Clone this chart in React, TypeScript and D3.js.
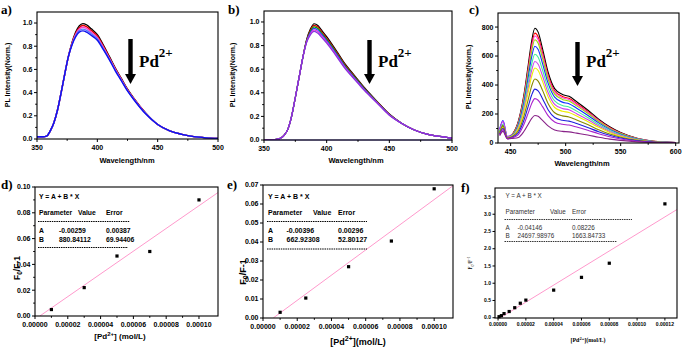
import * as d3 from 'd3';
import React from 'react';

const SANS = "'Liberation Sans', Arial, sans-serif";
const SERIF = "'Liberation Serif', 'Times New Roman', serif";

// ---- a) spectra ----
const wlA = [350, 355, 358, 361, 364, 367, 370, 373, 376, 379, 382, 385, 388, 391, 395, 400, 405, 410, 415, 420, 425, 430, 440, 450, 460, 470, 480, 490, 500];
const specA = [
  [0.02, 0.02, 0.025, 0.07, 0.14, 0.25, 0.40, 0.56, 0.71, 0.83, 0.92, 0.975, 0.995, 0.985, 0.95, 0.90, 0.81, 0.71, 0.61, 0.52, 0.43, 0.355, 0.225, 0.125, 0.07, 0.04, 0.02, 0.01, 0.005],
  [0.02, 0.02, 0.025, 0.07, 0.14, 0.25, 0.40, 0.56, 0.71, 0.825, 0.91, 0.96, 0.978, 0.968, 0.935, 0.888, 0.80, 0.703, 0.604, 0.515, 0.426, 0.352, 0.223, 0.125, 0.07, 0.04, 0.02, 0.01, 0.005],
  [0.02, 0.02, 0.025, 0.07, 0.14, 0.25, 0.40, 0.56, 0.71, 0.82, 0.90, 0.948, 0.963, 0.953, 0.921, 0.876, 0.79, 0.696, 0.598, 0.51, 0.422, 0.349, 0.221, 0.125, 0.07, 0.04, 0.02, 0.01, 0.005],
  [0.02, 0.02, 0.025, 0.07, 0.14, 0.25, 0.40, 0.56, 0.71, 0.815, 0.89, 0.935, 0.947, 0.937, 0.907, 0.864, 0.78, 0.689, 0.592, 0.505, 0.418, 0.346, 0.219, 0.125, 0.07, 0.04, 0.02, 0.01, 0.005],
  [0.02, 0.02, 0.025, 0.07, 0.14, 0.25, 0.40, 0.56, 0.71, 0.81, 0.88, 0.922, 0.932, 0.922, 0.893, 0.852, 0.77, 0.682, 0.586, 0.50, 0.414, 0.343, 0.217, 0.125, 0.07, 0.04, 0.02, 0.01, 0.005],
];
const colorsA = ['#000000', '#e00000', '#ff44cc', '#5577ff', '#1010ee'];

// ---- b) spectra ----
const wlB = [350, 355, 360, 363, 366, 369, 372, 375, 378, 381, 384, 387, 390, 393, 396, 400, 405, 410, 415, 420, 425, 430, 440, 450, 460, 470, 480, 490, 500];
const specB = [
  [0, 0, 0.005, 0.015, 0.04, 0.09, 0.20, 0.36, 0.53, 0.70, 0.85, 0.94, 0.985, 0.97, 0.93, 0.875, 0.80, 0.72, 0.64, 0.575, 0.51, 0.445, 0.33, 0.22, 0.14, 0.085, 0.05, 0.03, 0.015],
  [0, 0, 0.005, 0.015, 0.04, 0.09, 0.20, 0.36, 0.53, 0.70, 0.845, 0.93, 0.972, 0.957, 0.918, 0.864, 0.79, 0.711, 0.632, 0.568, 0.504, 0.44, 0.327, 0.218, 0.14, 0.085, 0.05, 0.03, 0.015],
  [0, 0, 0.005, 0.015, 0.04, 0.09, 0.20, 0.36, 0.53, 0.70, 0.84, 0.92, 0.959, 0.944, 0.906, 0.853, 0.78, 0.702, 0.624, 0.561, 0.498, 0.435, 0.324, 0.216, 0.14, 0.085, 0.05, 0.03, 0.015],
  [0, 0, 0.005, 0.015, 0.04, 0.09, 0.20, 0.36, 0.53, 0.70, 0.835, 0.91, 0.946, 0.931, 0.894, 0.842, 0.77, 0.693, 0.616, 0.554, 0.492, 0.43, 0.321, 0.214, 0.14, 0.085, 0.05, 0.03, 0.015],
  [0, 0, 0.005, 0.015, 0.04, 0.09, 0.20, 0.36, 0.53, 0.70, 0.83, 0.90, 0.933, 0.918, 0.882, 0.831, 0.76, 0.684, 0.608, 0.547, 0.486, 0.425, 0.318, 0.212, 0.14, 0.085, 0.05, 0.03, 0.015],
  [0, 0, 0.005, 0.015, 0.04, 0.09, 0.20, 0.36, 0.53, 0.70, 0.825, 0.89, 0.92, 0.905, 0.87, 0.82, 0.75, 0.675, 0.60, 0.54, 0.48, 0.42, 0.315, 0.21, 0.14, 0.085, 0.05, 0.03, 0.015],
];
const colorsB = ['#000000', '#e00000', '#00a000', '#2040ff', '#dd33dd', '#8833dd'];

// ---- c) spectra ----
const wlC = [440, 443, 447, 452, 457, 462, 466, 469, 472, 475, 479, 484, 490, 497, 503, 510, 520, 530, 540, 550, 565, 580, 600];
const specC = [
  [78, 120, 40, 65, 150, 330, 540, 700, 792, 765, 650, 490, 375, 335, 322, 285, 228, 165, 112, 72, 32, 12, 3],
  [60, 100, 38, 63, 144, 316, 517, 670, 758, 732, 622, 469, 359, 321, 308, 273, 218, 158, 107, 69, 31, 11, 3],
  [90, 150, 45, 62, 140, 308, 503, 652, 738, 713, 606, 457, 350, 312, 300, 266, 212, 154, 104, 67, 30, 11, 3],
  [70, 110, 40, 60, 135, 297, 485, 629, 712, 688, 584, 441, 337, 301, 289, 256, 205, 148, 101, 65, 29, 11, 3],
  [95, 155, 45, 58, 127, 278, 455, 590, 668, 645, 548, 413, 316, 282, 271, 240, 192, 139, 94, 61, 27, 10, 3],
  [80, 130, 40, 55, 116, 255, 417, 541, 612, 591, 502, 379, 290, 259, 249, 220, 176, 128, 87, 56, 25, 9, 2],
  [90, 150, 42, 52, 107, 234, 383, 497, 562, 543, 462, 348, 266, 238, 229, 202, 162, 117, 80, 51, 23, 9, 2],
  [70, 110, 38, 50, 98, 216, 353, 458, 518, 500, 425, 320, 245, 219, 211, 186, 149, 108, 73, 47, 21, 8, 2],
  [70, 120, 35, 46, 84, 184, 301, 391, 442, 427, 363, 273, 209, 187, 180, 159, 127, 92, 62, 40, 18, 7, 2],
  [60, 100, 32, 42, 71, 155, 254, 329, 372, 360, 306, 230, 176, 157, 151, 134, 107, 78, 53, 34, 15, 6, 2],
  [55, 90, 30, 38, 58, 127, 208, 270, 306, 295, 251, 189, 145, 129, 124, 110, 88, 64, 43, 28, 12, 5, 1],
  [50, 80, 28, 32, 38, 79, 130, 168, 190, 184, 156, 118, 90, 80, 77, 68, 55, 40, 27, 18, 8, 3, 1],
];
const colorsC = ['#000000', '#ff0000', '#ff44dd', '#99dd00', '#1030ff', '#44ee99', '#cc44ee', '#eeee00', '#888800', '#2020dd', '#aa22cc', '#882288'];

// ---- d) e) f) calibration ----
const concD = [0.00001, 0.00003, 0.00005, 0.00007, 0.0001];
const ratioD = [0.005, 0.022, 0.0465, 0.050, 0.090];
const fitD = { A: -0.00259, B: 880.84112, Aerr: '0.00387', Berr: '69.94406', Atxt: '-0.00259', Btxt: '880.84112' };

const concE = [0.00001, 0.000025, 0.00005, 0.000075, 0.0001];
const ratioE = [0.003, 0.0105, 0.027, 0.0405, 0.068];
const fitE = { A: -0.00396, B: 662.92308, Aerr: '0.00296', Berr: '52.80127', Atxt: '-0.00396', Btxt: '662.92308' };

const concF = [0.0000007, 0.0000024, 0.0000043, 0.000008, 0.000012, 0.000016, 0.00002, 0.00004, 0.00006, 0.00008, 0.00012];
const ratioF = [0.03, 0.06, 0.12, 0.18, 0.29, 0.42, 0.51, 0.80, 1.17, 1.58, 3.30];
const fitF = { A: -0.04146, B: 24697.98976, Aerr: '0.08226', Berr: '1663.84733', Atxt: '-0.04146', Btxt: '24697.98976' };

const spectrumXTicks = [350, 400, 450, 500];
const spectrumXMinor = [375, 425, 475];
const normYTicks = [0, 0.2, 0.4, 0.6, 0.8, 1.0];
const normYMinor = [0.1, 0.3, 0.5, 0.7, 0.9];
const cXTicks = [450, 500, 550, 600];
const cXMinor = [475, 525, 575];
const cYTicks = [0, 200, 400, 600, 800];
const cYMinor = [100, 300, 500, 700];
const concTicks = [0, 0.00002, 0.00004, 0.00006, 0.00008, 0.0001];
const concMinor = [0.00001, 0.00003, 0.00005, 0.00007, 0.00009];
const concTicksF = [0, 0.00002, 0.00004, 0.00006, 0.00008, 0.0001, 0.00012];
const dYTicks = [0, 0.02, 0.04, 0.06, 0.08, 0.1];
const dYMinor = [0.01, 0.03, 0.05, 0.07, 0.09];
const eYTicks = [0, 0.01, 0.02, 0.03, 0.04, 0.05, 0.06, 0.07];
const fYTicks = [0, 0.5, 1.0, 1.5, 2.0, 2.5, 3.0, 3.5];

type Lin = d3.ScaleLinear<number, number>;

function Axes({ x, y, xTicks, yTicks, xMinor = [], yMinor = [], xFmt, yFmt, fs, tl = 3 }: any) {
  const [x0, x1] = x.range();
  const [yb, yt] = y.range();
  return (
    <g>
      <rect x={x0} y={yt} width={x1 - x0} height={yb - yt} fill="none" stroke="#000" strokeWidth={1.1} />
      {xTicks.map((t: number) => (
        <g key={'x' + t}>
          <line x1={x(t)} x2={x(t)} y1={yb} y2={yb + tl} stroke="#000" />
          <text x={x(t)} y={yb + tl + fs + 0.5} textAnchor="middle" fontSize={fs} fontWeight="bold" fontFamily={SANS}>{xFmt(t)}</text>
        </g>
      ))}
      {xMinor.map((t: number) => <line key={'xm' + t} x1={x(t)} x2={x(t)} y1={yb} y2={yb + tl * 0.6} stroke="#000" />)}
      {yTicks.map((t: number) => (
        <g key={'y' + t}>
          <line x1={x0} x2={x0 - tl} y1={y(t)} y2={y(t)} stroke="#000" />
          <text x={x0 - tl - 1.5} y={y(t)} dy="0.35em" textAnchor="end" fontSize={fs} fontWeight="bold" fontFamily={SANS}>{yFmt(t)}</text>
        </g>
      ))}
      {yMinor.map((t: number) => <line key={'ym' + t} x1={x0} x2={x0 - tl * 0.6} y1={y(t)} y2={y(t)} stroke="#000" />)}
    </g>
  );
}

function Spectra({ id, x, y, wl, spec, colors, lw = 1.2 }: any) {
  const [x0, x1] = x.range();
  const [yb, yt] = y.range();
  const line = d3.line<number>().x((_, j) => x(wl[j])).y((v) => y(v)).curve(d3.curveMonotoneX);
  return (
    <g clipPath={`url(#${id})`}>
      <clipPath id={id}><rect x={x0} y={yt} width={x1 - x0} height={yb - yt} /></clipPath>
      {spec.map((s: number[], k: number) => (
        <path key={k} d={line(s) || ''} fill="none" stroke={colors[k]} strokeWidth={lw} />
      ))}
    </g>
  );
}

function PdArrow({ ax, top, bottom, tx, ty }: any) {
  const head = 10;
  return (
    <g>
      <rect x={ax - 2.2} y={top} width={4.4} height={bottom - top - head + 1} fill="#000" />
      <path d={`M${ax - 5.5},${bottom - head} L${ax + 5.5},${bottom - head} L${ax},${bottom} Z`} fill="#000" />
      <text x={tx} y={ty} fontFamily={SERIF} fontWeight="bold" fontSize={17}>
        Pd<tspan dy={-10} fontSize={13}>2+</tspan>
      </text>
    </g>
  );
}

function Calib({ id, x, y, conc, ratio, fit, tx, cols, rows, dash, fs, bold, color }: any) {
  const [x0, x1] = x.range();
  const [yb, yt] = y.range();
  const xs = [-fit.A / fit.B, x.domain()[1]];
  const line = d3.line<number>().x((v) => x(v)).y((v) => y(fit.A + fit.B * v));
  const fw = bold ? 'bold' : 'normal';
  const T = (s: string, px: number, py: number) => (
    <text x={px} y={py} fontSize={fs} fontWeight={fw} fontFamily={SANS} fill={color}>{s}</text>
  );
  return (
    <g>
      <clipPath id={id}><rect x={x0} y={yt} width={x1 - x0} height={yb - yt} /></clipPath>
      <path d={line(xs) || ''} stroke="#ff99cc" strokeWidth={1} fill="none" clipPath={`url(#${id})`} />
      {conc.map((c: number, i: number) => (
        <rect key={i} x={x(c) - 1.6} y={y(ratio[i]) - 1.6} width={3.2} height={3.2} fill="#000" />
      ))}
      {T('Y = A + B * X', tx, rows[0])}
      {T('Parameter', tx, rows[1])}
      {T('Value', cols[1], rows[1])}
      {T('Error', cols[2], rows[1])}
      <line x1={tx - 1} x2={dash[0]} y1={rows[2]} y2={rows[2]} stroke={color} strokeWidth={1} strokeDasharray="1.5,0.8" />
      {T('A', tx, rows[3])}
      {T(fit.Atxt, cols[0], rows[3])}
      {T(fit.Aerr, cols[2], rows[3])}
      {T('B', tx, rows[4])}
      {T(fit.Btxt, cols[0], rows[4])}
      {T(fit.Berr, cols[2], rows[4])}
      <line x1={tx - 1} x2={dash[1]} y1={rows[5]} y2={rows[5]} stroke={color} strokeWidth={1} strokeDasharray="1.5,0.8" />
    </g>
  );
}

const YLabel = ({ x, y, fs, children, family = SANS, weight = 'bold' }: any) => (
  <text transform={`translate(${x},${y}) rotate(-90)`} textAnchor="middle" fontSize={fs} fontWeight={weight} fontFamily={family}>{children}</text>
);

const Letter = ({ x, y, t }: any) => (
  <text x={x} y={y} fontSize={13} fontWeight="bold" fontFamily={SERIF}>{t}</text>
);

export default function App() {
  const xA: Lin = d3.scaleLinear().domain([350, 500]).range([37, 218]);
  const yA: Lin = d3.scaleLinear().domain([0, 1.095]).range([139, 12]);
  const xB: Lin = d3.scaleLinear().domain([350, 500]).range([264, 452]);
  const yB: Lin = d3.scaleLinear().domain([0, 1.093]).range([140, 11]);
  const xC: Lin = d3.scaleLinear().domain([438.5, 603]).range([498, 679]);
  const yC: Lin = d3.scaleLinear().domain([0, 897]).range([143, 13]);
  const xD: Lin = d3.scaleLinear().domain([0, 0.0001116]).range([35, 218]);
  const yD: Lin = d3.scaleLinear().domain([0, 0.1]).range([316, 187]);
  const xE: Lin = d3.scaleLinear().domain([0, 0.000111]).range([263, 453]);
  const yE: Lin = d3.scaleLinear().domain([0, 0.07]).range([318, 185]);
  const xF: Lin = d3.scaleLinear().domain([-0.0000022, 0.0001287]).range([495, 677]);
  const yF: Lin = d3.scaleLinear().domain([-0.008, 3.76]).range([318, 188]);

  const f1 = (v: number) => v.toFixed(1);
  const f0 = (v: number) => v.toFixed(0);
  const f2 = (v: number) => v.toFixed(2);
  const f5 = (v: number) => v.toFixed(5);

  return (
    <svg width={687} height={348} style={{ position: 'absolute', left: 0, top: 0, background: '#fff' }}>
      <rect width={687} height={348} fill="#fff" />

      {/* a */}
      <Letter x={1} y={14} t="a)" />
      <Spectra id="ca" x={xA} y={yA} wl={wlA} spec={specA} colors={colorsA} lw={1.4} />
      <Axes x={xA} y={yA} xTicks={spectrumXTicks} xMinor={spectrumXMinor} yTicks={normYTicks} yMinor={normYMinor} xFmt={f0} yFmt={f1} fs={7} />
      <YLabel x={9.5} y={75} fs={7}>PL Intensity(Norm.)</YLabel>
      <text x={127} y={163} textAnchor="middle" fontSize={7.5} fontWeight="bold" fontFamily={SANS}>Wavelength/nm</text>
      <PdArrow ax={130.5} top={39} bottom={84} tx={139} ty={67} />

      {/* b */}
      <Letter x={228} y={14} t="b)" />
      <line x1={xB(350)} x2={xB(500)} y1={yB(0)} y2={yB(0)} stroke="#6a5acd" strokeWidth={1.2} />
      <Spectra id="cb" x={xB} y={yB} wl={wlB} spec={specB} colors={colorsB} lw={1.2} />
      <Axes x={xB} y={yB} xTicks={spectrumXTicks} xMinor={spectrumXMinor} yTicks={normYTicks} yMinor={normYMinor} xFmt={f0} yFmt={f1} fs={7} />
      <YLabel x={235} y={75} fs={7}>PL Intensity(Norm.)</YLabel>
      <text x={356} y={163} textAnchor="middle" fontSize={7.5} fontWeight="bold" fontFamily={SANS}>Wavelength/nm</text>
      <PdArrow ax={369.5} top={40} bottom={84} tx={378} ty={67} />

      {/* c */}
      <Letter x={469} y={14} t="c)" />
      <Spectra id="cc" x={xC} y={yC} wl={wlC} spec={specC} colors={colorsC} lw={1.1} />
      <Axes x={xC} y={yC} xTicks={cXTicks} xMinor={cXMinor} yTicks={cYTicks} yMinor={cYMinor} xFmt={f0} yFmt={f0} fs={7} />
      <YLabel x={471} y={77} fs={7}>PL Intensity(Norm.)</YLabel>
      <text x={582} y={166} textAnchor="middle" fontSize={7.5} fontWeight="bold" fontFamily={SANS}>Wavelength/nm</text>
      <PdArrow ax={577.5} top={42} bottom={86} tx={586} ty={67} />

      {/* d */}
      <Letter x={1} y={189} t="d)" />
      <Calib id="cd" x={xD} y={yD} conc={concD} ratio={ratioD} fit={fitD} tx={39} cols={[59, 78, 106]} rows={[199, 215, 221.5, 233, 241.5, 247.5]} dash={[130, 128]} fs={6.8} bold color="#000" />
      <Axes x={xD} y={yD} xTicks={concTicks} xMinor={concMinor} yTicks={dYTicks} yMinor={dYMinor} xFmt={f5} yFmt={f2} fs={7} />
      <YLabel x={20} y={268} fs={8.5}>F<tspan dy={2} fontSize={6.5}>0</tspan><tspan dy={-2}>/F-1</tspan></YLabel>
      <text x={120} y={339} textAnchor="middle" fontSize={8} fontWeight="bold" fontFamily={SANS}>[Pd<tspan dy={-3.5} fontSize={6}>2+</tspan><tspan dy={3.5}>] (mol/L)</tspan></text>

      {/* e */}
      <Letter x={227} y={189} t="e)" />
      <Calib id="ce" x={xE} y={yE} conc={concE} ratio={ratioE} fit={fitE} tx={268} cols={[286.5, 313, 338]} rows={[199, 215, 221.5, 233, 241.5, 249]} dash={[367, 367]} fs={7} bold color="#000" />
      <Axes x={xE} y={yE} xTicks={concTicks} xMinor={concMinor} yTicks={eYTicks} xFmt={f5} yFmt={f2} fs={7} />
      <YLabel x={246} y={272} fs={9}>F<tspan dy={2} fontSize={7}>0</tspan><tspan dy={-2}>/F-1</tspan></YLabel>
      <text x={358} y={345} textAnchor="middle" fontSize={9} fontWeight="bold" fontFamily={SANS}>[Pd<tspan dy={-4} fontSize={7}>2+</tspan><tspan dy={4}>](mol/L)</tspan></text>

      {/* f */}
      <Letter x={461} y={192} t="f)" />
      <Calib id="cf" x={xF} y={yF} conc={concF} ratio={ratioF} fit={fitF} tx={505.5} cols={[517.5, 550, 572]} rows={[198, 214, 219.5, 229.5, 237.5, 241.5]} dash={[632, 617]} fs={6.3} bold={false} color="#333" />
      <Axes x={xF} y={yF} xTicks={concTicksF} yTicks={fYTicks} xFmt={f5} yFmt={f1} fs={5} tl={2.5} />
      <YLabel x={472} y={263} fs={5.5} family={SERIF} weight="normal">F<tspan dy={1.5} fontSize={4}>0</tspan><tspan dy={-1.5}>/F</tspan><tspan dy={-2} fontSize={4}>-1</tspan></YLabel>
      <text x={588} y={342} textAnchor="middle" fontSize={6} fontFamily={SERIF} fontWeight="bold">[Pd<tspan dy={-2.5} fontSize={4.5}>2+</tspan><tspan dy={2.5}>](mol/L)</tspan></text>
    </svg>
  );
}
